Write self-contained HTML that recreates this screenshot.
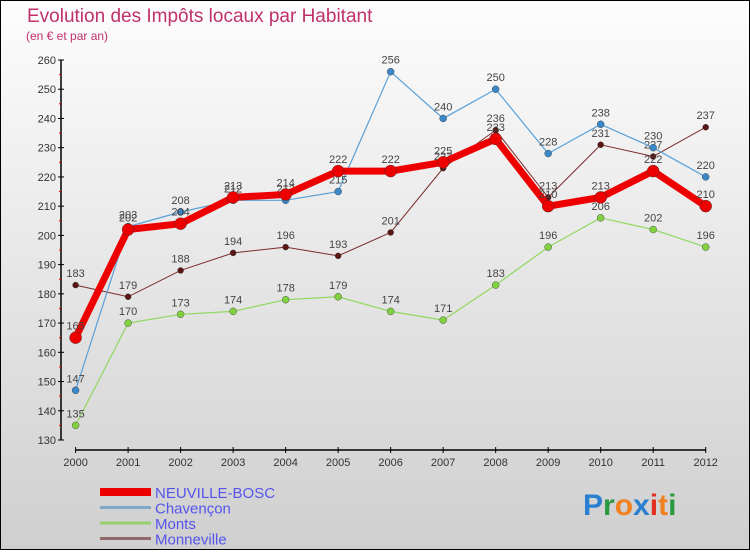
<!DOCTYPE html>
<html><head><meta charset="utf-8"><style>
body{margin:0}
svg text{font-family:"Liberation Sans",sans-serif}
</style></head><body>
<svg width="750" height="550" xmlns="http://www.w3.org/2000/svg">
<defs><linearGradient id="bg" x1="0" y1="0" x2="0" y2="1"><stop offset="0" stop-color="#fdfdfd"/><stop offset="1" stop-color="#cfcfcf"/></linearGradient></defs>
<rect x="0.5" y="0.5" width="749" height="549" fill="url(#bg)" stroke="#000"/>
<text x="27" y="22" font-size="19" fill="#c0306a">Evolution des Impôts locaux par Habitant</text>
<text x="26" y="40" font-size="12" fill="#c0306a">(en € et par an)</text>
<g id="axes"></g><g id="series"></g><g id="legend"></g>
<text x="583" y="515" font-size="30" font-weight="bold"><tspan fill="#2a7fd0">P</tspan><tspan fill="#2a9a40">r</tspan><tspan fill="#f08020">o</tspan><tspan fill="#2a7fd0">x</tspan><tspan fill="#e03020">i</tspan><tspan fill="#f08020">t</tspan><tspan fill="#2a9a40">i</tspan></text>
</svg>
<script>
const years=[2000,2001,2002,2003,2004,2005,2006,2007,2008,2009,2010,2011,2012];
const yTicks=[130,140,150,160,170,180,190,200,210,220,230,240,250,260];
const neuville=[165,202,204,213,214,222,222,225,233,210,213,222,210];
const chavencon=[147,203,208,212,212,215,256,240,250,228,238,230,220];
const monts=[135,170,173,174,178,179,174,171,183,196,206,202,196];
const monneville=[183,179,188,194,196,193,201,223,236,213,231,227,237];
const NS="http://www.w3.org/2000/svg";
const X=i=>75.6+i*(705.7-75.6)/(years.length-1);
const Y=v=>440-(v-130)*(380/130);
function mk(tag,attrs,parent,txt){const e=document.createElementNS(NS,tag);for(const k in attrs)e.setAttribute(k,attrs[k]);if(txt!==undefined)e.textContent=txt;parent.appendChild(e);return e;}
const ax=document.getElementById('axes');
let l=mk('line',{x1:61,y1:Y(260),x2:61,y2:440,stroke:'#000','stroke-width':1.5},ax);


yTicks.forEach(v=>{
 const t=mk('line',{x1:58,x2:64,y1:Y(v),y2:Y(v),stroke:'#000'},ax);
 
 
 if(v<260){const m=mk('line',{x1:59,x2:61,y1:Y(v+5),y2:Y(v+5),stroke:'#e00'},ax);
 
 }
 const tx=mk('text',{x:56,y:Y(v)+4,'font-size':11,fill:'#333','text-anchor':'end'},ax,v);
 
 
});
l=mk('line',{x1:X(0),y1:450,x2:X(12),y2:450,stroke:'#000','stroke-width':1.5},ax);


years.forEach((y,i)=>{
 const t=mk('line',{x1:X(i),x2:X(i),y1:447,y2:453,stroke:'#000'},ax);
 
 
 const tx=mk('text',{x:X(i),y:466,'font-size':11,fill:'#333','text-anchor':'middle'},ax,y);
 
 
});
const sg=document.getElementById('series');
const series=[
 {name:'monneville',data:monneville,color:'#7a2a2a',w:1,r:3,dot:'#5a1515'},
 {name:'monts',data:monts,color:'#90d860',w:1.2,r:3.5,dot:'#80d040'},
 {name:'chavencon',data:chavencon,color:'#5aa0d8',w:1.2,r:3.5,dot:'#3a88c8'},
 {name:'neuville-bosc',data:neuville,color:'#ee0000',w:7,r:6,dot:'#ee0000'}];
series.forEach(s=>{
 const g=mk('g',{},sg);
 
 
 const p=mk('polyline',{points:s.data.map((v,i)=>X(i)+','+Y(v)).join(' '),fill:'none',stroke:s.color,'stroke-width':s.w},g);
 
 
 s.data.forEach((v,i)=>{
  const c=mk('circle',{cx:X(i),cy:Y(v),r:s.r,fill:s.dot,stroke:'#333','stroke-width':0.4},g);
  
  
  const t=mk('text',{x:X(i),y:Y(v)-8,'font-size':11,fill:'#444','text-anchor':'middle'},g,v);
  
  
 });
});
const lg=document.getElementById('legend');
const leg=[['NEUVILLE-BOSC','#ee0000',8],['Chavençon','#80a8c8',3],['Monts','#98d070',3],['Monneville','#906868',3]];
leg.forEach((e,i)=>{
 const y=492+i*15.5;
 const ln=mk('line',{x1:100,x2:151,y1:y,y2:y,stroke:e[1],'stroke-width':e[2]},lg);
 
 
 const t=mk('text',{x:155,y:y+6,'font-size':15,fill:'#5555ee'},lg,e[0]);
 
 
});
</script>
</body></html>
